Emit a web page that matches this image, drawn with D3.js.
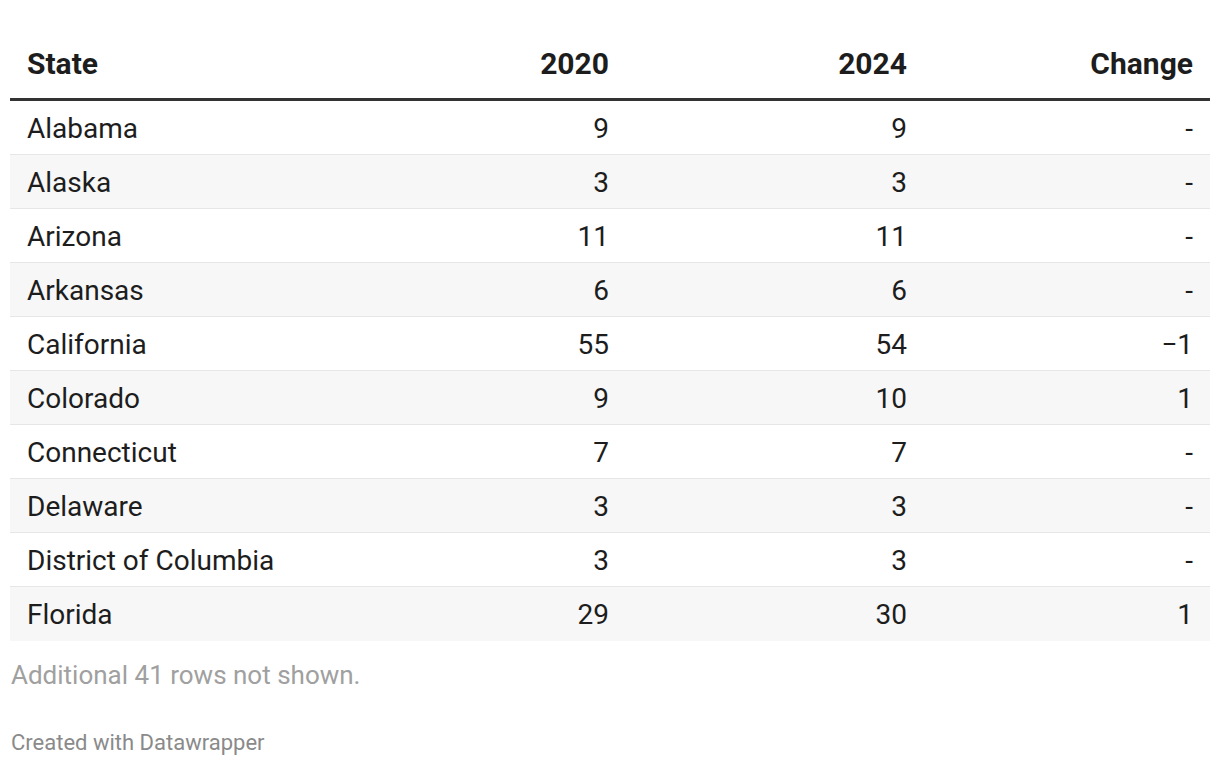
<!DOCTYPE html>
<html><head><meta charset="utf-8">
<script src="https://cdn.jsdelivr.net/npm/d3@7"></script>
<style>
body{margin:0;background:#fff;}
svg text{font-family:Roboto,"Noto Sans",sans-serif;}
</style></head>
<body><svg id="c" width="1220" height="766"></svg>
<script>
const columns = ["State","2020","2024","Change"];
const states = ["Alabama","Alaska","Arizona","Arkansas","California","Colorado","Connecticut","Delaware","District of Columbia","Florida"];
const votes2020 = [9,3,11,6,55,9,7,3,3,29];
const votes2024 = [9,3,11,6,54,10,7,3,3,30];
const changeLabels = ["-","-","-","-","\u22121","1","-","-","-","1"];
const footNote = "Additional 41 rows not shown.";
const credit = "Created with Datawrapper";

const svg = d3.select("#c");
const left = 10, right = 1210, headTop = 98, rowH = 54;
const rows = states.map((s,i)=>({state:s,a:votes2020[i],b:votes2024[i],c:changeLabels[i]}));
const y = d3.scaleBand().domain(d3.range(rows.length)).range([101, 101 + rowH*rows.length]).paddingInner(0);
const colX = {"State":27,"2020":609,"2024":907,"Change":1193};
const anchor = {"State":"start","2020":"end","2024":"end","Change":"end"};

// header
svg.selectAll("text.h").data(columns).join("text").attr("class","h")
  .attr("x",d=>colX[d]).attr("y",74).attr("text-anchor",d=>anchor[d])
  .attr("font-size",30).attr("font-weight",700).attr("fill","#1d1d1d").text(d=>d);

// rows background
const g = svg.selectAll("g.row").data(rows).join("g").attr("class","row")
  .attr("transform",(d,i)=>`translate(0,${y(i)})`);
g.append("rect").attr("x",left).attr("width",right-left).attr("height",y.bandwidth())
  .attr("fill",(d,i)=>i%2? "#f7f7f7":"#ffffff");
g.filter((d,i)=>i<rows.length-1).append("rect").attr("x",left).attr("width",right-left)
  .attr("y",y.bandwidth()-1).attr("height",2).attr("fill","#e6e6e6");
const cell = (key, acc) => g.append("text").attr("x",colX[key]).attr("y",37)
  .attr("text-anchor",anchor[key]).attr("font-size",28).attr("fill","#1d1d1d").text(acc);
cell("State",d=>d.state);
cell("2020",d=>d.a);
cell("2024",d=>d.b);
cell("Change",d=>d.c);

// header rule
svg.append("rect").attr("x",left).attr("y",headTop).attr("width",right-left).attr("height",3).attr("fill","#333");

svg.append("text").attr("x",11).attr("y",684).attr("font-size",26).attr("fill","#a0a0a0").text(footNote);
svg.append("text").attr("x",11).attr("y",750).attr("font-size",22).attr("fill","#8a8a8a").text(credit);
</script></body></html>
